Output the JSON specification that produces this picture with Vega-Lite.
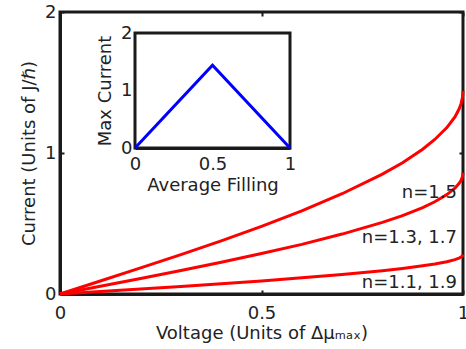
{
  "$schema": "https://vega.github.io/schema/vega-lite/v6.json",
  "width": 403,
  "height": 282,
  "autosize": {"type": "none"},
  "padding": {"left": 60, "top": 12, "right": 3, "bottom": 55},
  "background": "white",
  "config": {
    "view": {"stroke": "#1a1a1a", "strokeWidth": 3},
    "font": "DejaVu Sans",
    "axis": {
      "grid": false,
      "domainColor": "#1a1a1a",
      "domainWidth": 3,
      "tickColor": "#1a1a1a",
      "tickWidth": 2,
      "tickSize": -4,
      "format": "~g",
      "labelFlush": false,
      "labelOverlap": false,
      "labelFont": "DejaVu Sans",
      "labelFontSize": 18,
      "labelColor": "#222222",
      "titleFont": "DejaVu Sans",
      "titleFontSize": 18,
      "titleFontWeight": "normal",
      "titleColor": "#222222"
    }
  },
  "datasets": {
    "curves": [
      {"n": "1.5", "V": 0, "I": 0}, {"n": "1.5", "V": 0.1, "I": 0.092}, {"n": "1.5", "V": 0.2, "I": 0.185}, {"n": "1.5", "V": 0.3, "I": 0.279}, {"n": "1.5", "V": 0.4, "I": 0.377}, {"n": "1.5", "V": 0.5, "I": 0.48}, {"n": "1.5", "V": 0.6, "I": 0.59}, {"n": "1.5", "V": 0.7, "I": 0.711}, {"n": "1.5", "V": 0.8, "I": 0.85}, {"n": "1.5", "V": 0.85, "I": 0.931}, {"n": "1.5", "V": 0.9, "I": 1.027}, {"n": "1.5", "V": 0.93, "I": 1.096}, {"n": "1.5", "V": 0.96, "I": 1.18}, {"n": "1.5", "V": 0.98, "I": 1.256}, {"n": "1.5", "V": 0.99, "I": 1.31}, {"n": "1.5", "V": 0.995, "I": 1.348}, {"n": "1.5", "V": 0.999, "I": 1.399}, {"n": "1.5", "V": 1, "I": 1.44},
      {"n": "1.3", "V": 0, "I": 0}, {"n": "1.3", "V": 0.1, "I": 0.055}, {"n": "1.3", "V": 0.2, "I": 0.11}, {"n": "1.3", "V": 0.3, "I": 0.167}, {"n": "1.3", "V": 0.4, "I": 0.225}, {"n": "1.3", "V": 0.5, "I": 0.287}, {"n": "1.3", "V": 0.6, "I": 0.352}, {"n": "1.3", "V": 0.7, "I": 0.425}, {"n": "1.3", "V": 0.8, "I": 0.508}, {"n": "1.3", "V": 0.85, "I": 0.556}, {"n": "1.3", "V": 0.9, "I": 0.613}, {"n": "1.3", "V": 0.93, "I": 0.654}, {"n": "1.3", "V": 0.96, "I": 0.705}, {"n": "1.3", "V": 0.98, "I": 0.75}, {"n": "1.3", "V": 0.99, "I": 0.783}, {"n": "1.3", "V": 0.995, "I": 0.805}, {"n": "1.3", "V": 0.999, "I": 0.835}, {"n": "1.3", "V": 1, "I": 0.86},
      {"n": "1.1", "V": 0, "I": 0}, {"n": "1.1", "V": 0.1, "I": 0.018}, {"n": "1.1", "V": 0.2, "I": 0.036}, {"n": "1.1", "V": 0.3, "I": 0.054}, {"n": "1.1", "V": 0.4, "I": 0.073}, {"n": "1.1", "V": 0.5, "I": 0.093}, {"n": "1.1", "V": 0.6, "I": 0.115}, {"n": "1.1", "V": 0.7, "I": 0.138}, {"n": "1.1", "V": 0.8, "I": 0.165}, {"n": "1.1", "V": 0.85, "I": 0.181}, {"n": "1.1", "V": 0.9, "I": 0.2}, {"n": "1.1", "V": 0.93, "I": 0.213}, {"n": "1.1", "V": 0.96, "I": 0.229}, {"n": "1.1", "V": 0.98, "I": 0.244}, {"n": "1.1", "V": 0.99, "I": 0.255}, {"n": "1.1", "V": 0.995, "I": 0.262}, {"n": "1.1", "V": 0.999, "I": 0.272}, {"n": "1.1", "V": 1, "I": 0.28}
    ],
    "labels": [
      {"label": "n=1.5", "V": 0.985, "I": 0.68},
      {"label": "n=1.3, 1.7", "V": 0.985, "I": 0.36},
      {"label": "n=1.1, 1.9", "V": 0.985, "I": 0.043}
    ],
    "inset": [
      {"f": 0, "m": 0}, {"f": 0.5, "m": 1.44}, {"f": 1, "m": 0}
    ],
    "frame": [
      {"f0": 0, "f1": 1, "m0": 0, "m1": 2}
    ]
  },
  "layer": [
    {
      "layer": [
        {
          "data": {"name": "curves"},
          "mark": {"type": "line", "color": "#ff0000", "strokeWidth": 3},
          "encoding": {
            "x": {"field": "V", "type": "quantitative", "title": "Voltage (Units of Δμₘₐₓ)", "scale": {"domain": [0, 1]}, "axis": {"values": [0, 0.5, 1], "labelPadding": 14, "titlePadding": 2}},
            "y": {"field": "I", "type": "quantitative", "title": "Current (Units of J/ℏ)", "scale": {"domain": [0, 2]}, "axis": {"values": [0, 1, 2], "labelPadding": 8, "titlePadding": 6}},
            "detail": {"field": "n"}
          }
        },
        {
          "data": {"name": "labels"},
          "mark": {"type": "text", "align": "right", "baseline": "alphabetic", "fontSize": 18, "color": "#222222", "font": "DejaVu Sans"},
          "encoding": {
            "x": {"field": "V", "type": "quantitative", "title": "Voltage (Units of Δμₘₐₓ)"},
            "y": {"field": "I", "type": "quantitative", "title": "Current (Units of J/ℏ)"},
            "text": {"field": "label"}
          }
        }
      ]
    },
    {
      "data": {"name": "curves"},
      "mark": {"type": "point", "opacity": 0},
      "encoding": {
        "x": {"field": "V", "type": "quantitative", "scale": {"domain": [0, 1]}, "axis": {"orient": "top", "values": [0, 0.5, 1], "labels": false, "domain": false, "title": null}},
        "y": {"field": "I", "type": "quantitative", "scale": {"domain": [0, 2]}, "axis": {"orient": "right", "values": [0, 1, 2], "labels": false, "domain": false, "title": null}}
      }
    },
    {
      "layer": [
        {
          "data": {"name": "frame"},
          "mark": {"type": "rect", "fill": "white", "stroke": "#1a1a1a", "strokeWidth": 3},
          "encoding": {
            "x": {"field": "f0", "type": "quantitative", "title": "Average Filling", "scale": {"domain": [0, 1], "range": [75, 230]}, "axis": {"orient": "bottom", "offset": -146, "values": [0, 0.5, 1], "ticks": false, "labelPadding": 7, "titlePadding": 3}},
            "x2": {"field": "f1"},
            "y": {"field": "m0", "type": "quantitative", "title": "Max Current", "scale": {"domain": [0, 2], "range": [136, 21]}, "axis": {"orient": "left", "offset": -75, "values": [0, 1, 2], "ticks": false, "labelPadding": 3, "titlePadding": 6}},
            "y2": {"field": "m1"}
          }
        },
        {
          "data": {"name": "inset"},
          "mark": {"type": "line", "color": "#0000ff", "strokeWidth": 3},
          "encoding": {
            "x": {"field": "f", "type": "quantitative", "title": "Average Filling"},
            "y": {"field": "m", "type": "quantitative", "title": "Max Current"}
          }
        }
      ]
    }
  ],
  "resolve": {
    "scale": {"x": "independent", "y": "independent"},
    "axis": {"x": "independent", "y": "independent"}
  }
}
